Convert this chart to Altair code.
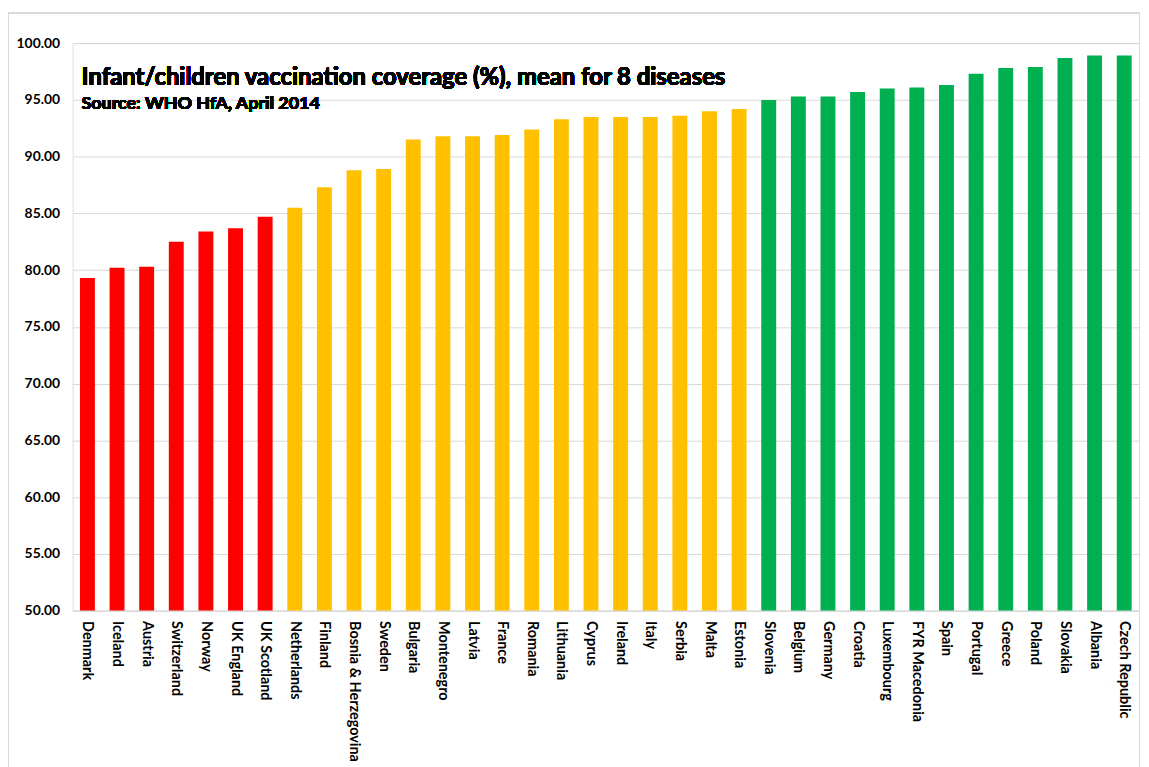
import altair as alt
import pandas as pd

countries = ["Denmark", "Iceland", "Austria", "Switzerland", "Norway", "UK England",
             "UK Scotland", "Netherlands", "Finland", "Bosnia & Herzegovina", "Sweden",
             "Bulgaria", "Montenegro", "Latvia", "France", "Romania", "Lithuania", "Cyprus",
             "Ireland", "Italy", "Serbia", "Malta", "Estonia", "Slovenia", "Belgium",
             "Germany", "Croatia", "Luxembourg", "FYR Macedonia", "Spain", "Portugal",
             "Greece", "Poland", "Slovakia", "Albania", "Czech Republic"]
values = [79.3, 80.2, 80.3, 82.5, 83.4, 83.7, 84.7, 85.5, 87.3, 88.8, 88.9,
          91.5, 91.8, 91.8, 91.9, 92.4, 93.3, 93.5, 93.5, 93.5, 93.6, 94.0, 94.2,
          95.0, 95.3, 95.3, 95.7, 96.0, 96.1, 96.3, 97.3, 97.8, 97.9, 98.7, 98.9, 98.9]
tiers = ["low"] * 7 + ["mid"] * 16 + ["high"] * 13
tier_domain = ["low", "mid", "high"]
tier_colors = ["#FF0000", "#FFC000", "#00B050"]
y_ticks = [50, 55, 60, 65, 70, 75, 80, 85, 90, 95, 100]
title_text = "Infant/children vaccination coverage (%), mean for 8 diseases"
subtitle_text = "Source: WHO HfA, April 2014"

df = pd.DataFrame({"country": countries, "value": values, "tier": tiers})

FONT = "Lato"
W, H = 1073, 571

bars = alt.Chart(df).mark_bar(size=15).encode(
    x=alt.X("country:N", sort=countries, title=None,
            scale=alt.Scale(paddingInner=0.5, paddingOuter=0.25),
            axis=alt.Axis(labelAngle=90, labelFont=FONT, labelFontWeight="bold",
                          labelFontSize=14.5, labelColor="#000000", labelPadding=10,
                          ticks=False, domainColor="#d9d9d9", domainWidth=1,
                          labelOverlap=False, labelLimit=300)),
    y=alt.Y("value:Q", title=None,
            scale=alt.Scale(domain=[50, 100], zero=False, nice=False),
            axis=alt.Axis(values=y_ticks, format=".2f", labelFont=FONT,
                          labelFontWeight="bold", labelFontSize=14, labelColor="#000000",
                          labelPadding=13, ticks=False, domain=False,
                          gridColor="#d9d9d9", gridWidth=1)),
    y2=alt.datum(50),
    color=alt.Color("tier:N", scale=alt.Scale(domain=tier_domain, range=tier_colors),
                    legend=None),
)

title = alt.Chart(df).mark_text(align="left", baseline="alphabetic", font=FONT,
                                fontWeight="bold", fontSize=24, color="#000000").encode(
    x=alt.value(9), y=alt.value(42), text=alt.value(title_text))

subtitle = alt.Chart(df).mark_text(align="left", baseline="alphabetic", font=FONT,
                                   fontWeight="bold", fontSize=18, color="#000000").encode(
    x=alt.value(9), y=alt.value(66), text=alt.value(subtitle_text))

frame = alt.Chart(df).mark_rect(fill=None, stroke="#d9d9d9", strokeWidth=1).encode(
    x=alt.value(-64.5), x2=alt.value(1073.5), y=alt.value(-30.5), y2=alt.value(740))

chart = alt.layer(frame, bars, title, subtitle).properties(
    width=W, height=H,
    autosize=alt.AutoSizeParams(type="none"),
    padding={"left": 65, "top": 33, "right": 2, "bottom": 155},
).configure_view(stroke=None).configure(background="white")

chart.save("out.html", embed_options={"renderer": "svg", "actions": False})
